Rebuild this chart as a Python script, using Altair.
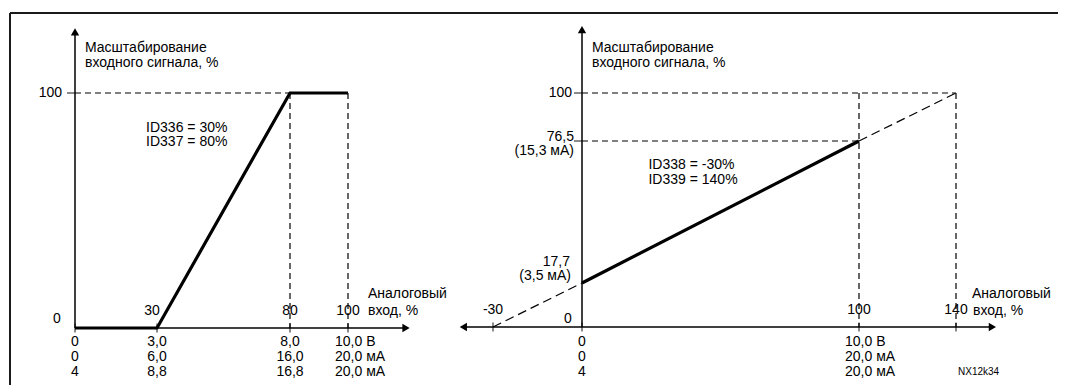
import altair as alt
import pandas as pd

FONT = "Liberation Sans"
FS = 14
INK = "black"

# ---------------- left panel: ID336 = 30 %, ID337 = 80 %
L_curve_x = [0, 30, 80, 100]
L_curve_y = [0, 0, 100, 100]
L_guide_x = [0, 80, 100]
L_guide_x2 = [80, 80, 100]
L_guide_y = [100, 100, 100]
L_guide_y2 = [100, 0, 0]
L_xticks = [0, 30, 80, 100]
L_xlabel_pos = [80, 100]
L_xlabels = ["80", "100"]
L_cols = [0, 30, 80]
L_row1 = ["0", "3,0", "8,0"]
L_row2 = ["0", "6,0", "16,0"]
L_row3 = ["4", "8,8", "16,8"]
L_last = ["10,0 В", "20,0 мА", "20,0 мА"]
L_params = ["ID336 = 30%", "ID337 = 80%"]
L_param_pos = (26, 85)

# ---------------- right panel: ID338 = -30 %, ID339 = 140 %
R_solid_x = [0, 100]
R_solid_y = [17.7, 76.5]
R_dash_x = [-30, 100]
R_dash_x2 = [0, 140]
R_dash_y = [0, 76.5]
R_dash_y2 = [17.7, 100]
R_guide_x = [0, 0, 100, 140]
R_guide_x2 = [140, 100, 100, 140]
R_guide_y = [100, 76.5, 100, 100]
R_guide_y2 = [100, 76.5, 0, 0]
R_xticks = [-30, 0, 100, 140]
R_xlabel_pos = [-30, 100, 140]
R_xlabels = ["-30", "100", "140"]
R_first = ["0", "0", "4"]
R_last = ["10,0 В", "20,0 мА", "20,0 мА"]
R_params = ["ID338 =  -30%", "ID339 = 140%"]
R_param_pos = (24, 66.6)

Y_TITLE = ["Масштабирование", "входного сигнала, %"]
X_TITLE = ["Аналоговый", "вход, %"]

# schematic (piecewise) scales, as in the original drawing
XL = alt.Scale(domain=[0, 30, 80, 100], range=[67, 149, 282, 340], nice=False, zero=False)
YL = alt.Scale(domain=[0, 100], range=[320, 85], nice=False, zero=False)
XR = alt.Scale(domain=[-30, 0, 100, 140], range=[485, 574, 851, 948], nice=False, zero=False)
YR = alt.Scale(domain=[0, 17.7, 76.5, 100], range=[319, 275, 133, 85], nice=False, zero=False)

ROWS = [14, 29, 44]


def xy(xs, ys, xf="x", yf="y"):
    return dict(x=alt.X(f"{xf}:Q", scale=xs, axis=None),
                y=alt.Y(f"{yf}:Q", scale=ys, axis=None))


def seg(df, xs, ys, **mk):
    return alt.Chart(df).mark_rule(color=INK, **mk).encode(
        **xy(xs, ys), x2="x2:Q", y2="y2:Q")


def txt(xs_vals, ys_vals, texts, xs, ys, align="center", dx=0, dy=0, size=FS):
    df = pd.DataFrame({"x": xs_vals, "y": ys_vals, "t": texts})
    return alt.Chart(df).mark_text(align=align, baseline="middle", dx=dx, dy=dy,
                                   fontSize=size, font=FONT, color=INK).encode(
        **xy(xs, ys), text="t:N")


def arrows(px, py, shapes, xs, ys):
    df = pd.DataFrame({"x": px, "y": py, "s": shapes})
    return alt.Chart(df).mark_point(filled=True, color=INK, size=70, opacity=1).encode(
        **xy(xs, ys), shape=alt.Shape("s:N", scale=None, legend=None))


def panel(xs, ys, x_lo, x_hi, y_hi, arrow_px, arrow_py, arrow_sh, xticks, ytick_vals):
    axes = seg(pd.DataFrame({"x": [x_lo, 0], "x2": [x_hi, 0], "y": [0, 0], "y2": [0, y_hi]}),
               xs, ys, strokeWidth=1.5)
    tk = alt.Chart(pd.DataFrame({"x": xticks, "y": [0] * len(xticks)})).mark_tick(
        orient="vertical", size=9, thickness=1.3, color=INK).encode(**xy(xs, ys))
    ytk = alt.Chart(pd.DataFrame({"x": [0] * len(ytick_vals), "y": ytick_vals})).mark_tick(
        orient="horizontal", size=8, thickness=1.3, color=INK, xOffset=-4).encode(**xy(xs, ys))
    return [axes, tk, ytk, arrows(arrow_px, arrow_py, arrow_sh, xs, ys)]


DASH = [6, 4]

# ---------- left panel layers
left_layers = [
    seg(pd.DataFrame({"x": L_guide_x, "x2": L_guide_x2, "y": L_guide_y, "y2": L_guide_y2}),
        XL, YL, strokeDash=DASH, strokeWidth=1.2),
] + panel(XL, YL, 0, 120, 126, [120, 0], [0, 126], ["triangle-right", "triangle-up"],
          L_xticks, [100]) + [
    alt.Chart(pd.DataFrame({"x": L_curve_x, "y": L_curve_y})).mark_line(
        color=INK, strokeWidth=3.2).encode(**xy(XL, YL)),
    txt([0], [100], Y_TITLE[:1], XL, YL, align="left", dx=10, dy=-45),
    txt([0], [100], Y_TITLE[1:], XL, YL, align="left", dx=10, dy=-30),
    txt([0], [100], ["100"], XL, YL, align="right", dx=-13),
    txt([0], [0], ["0"], XL, YL, dx=-18, dy=-9),
    txt([30], [0], ["30"], XL, YL, dx=-5, dy=-17),
    txt(L_xlabel_pos, [0] * 2, L_xlabels, XL, YL, dy=-17),
    txt([100], [0], X_TITLE[:1], XL, YL, align="left", dx=20, dy=-34),
    txt([100], [0], X_TITLE[1:], XL, YL, align="left", dx=20, dy=-17),
    txt(L_cols, [0] * 3, L_row1, XL, YL, dy=ROWS[0]),
    txt(L_cols, [0] * 3, L_row2, XL, YL, dy=ROWS[1]),
    txt(L_cols, [0] * 3, L_row3, XL, YL, dy=ROWS[2]),
    txt([100], [0], L_last[:1], XL, YL, align="left", dx=-13, dy=ROWS[0]),
    txt([100], [0], L_last[1:2], XL, YL, align="left", dx=-13, dy=ROWS[1]),
    txt([100], [0], L_last[2:], XL, YL, align="left", dx=-13, dy=ROWS[2]),
    txt([L_param_pos[0]], [L_param_pos[1]], L_params[:1], XL, YL, align="left"),
    txt([L_param_pos[0]], [L_param_pos[1]], L_params[1:], XL, YL, align="left", dy=14),
    # outer frame of the figure
    alt.Chart(pd.DataFrame({"k": [0]})).mark_rule(color="#1a1a1a", strokeWidth=2).encode(
        x=alt.value(2), y=alt.value(5), x2=alt.value(1058), y2=alt.value(5)),
    alt.Chart(pd.DataFrame({"k": [0]})).mark_rule(color="#1a1a1a", strokeWidth=2).encode(
        x=alt.value(2), y=alt.value(5), x2=alt.value(2), y2=alt.value(377)),
]

# ---------- right panel layers
right_layers = [
    seg(pd.DataFrame({"x": R_guide_x, "x2": R_guide_x2, "y": R_guide_y, "y2": R_guide_y2}),
        XR, YR, strokeDash=DASH, strokeWidth=1.2),
    seg(pd.DataFrame({"x": R_dash_x, "x2": R_dash_x2, "y": R_dash_y, "y2": R_dash_y2}),
        XR, YR, strokeDash=[9, 5], strokeWidth=1.2),
] + panel(XR, YR, -40, 155, 131, [-40, 155, 0], [0, 0, 131],
          ["triangle-left", "triangle-right", "triangle-up"], R_xticks, [100, 76.5]) + [
    alt.Chart(pd.DataFrame({"x": R_solid_x, "y": R_solid_y})).mark_line(
        color=INK, strokeWidth=3.2).encode(**xy(XR, YR)),
    txt([0], [100], Y_TITLE[:1], XR, YR, align="left", dx=10, dy=-45),
    txt([0], [100], Y_TITLE[1:], XR, YR, align="left", dx=10, dy=-30),
    txt([0], [100], ["100"], XR, YR, align="right", dx=-10),
    txt([0], [76.5], ["76,5"], XR, YR, align="right", dx=-8, dy=-4),
    txt([0], [76.5], ["(15,3 мА)"], XR, YR, align="right", dx=-8, dy=10),
    txt([0], [17.7], ["17,7"], XR, YR, align="right", dx=-12, dy=-21),
    txt([0], [17.7], ["(3,5 мА)"], XR, YR, align="right", dx=-11, dy=-7),
    txt([0], [0], ["0"], XR, YR, dx=-14, dy=-8),
    txt(R_xlabel_pos, [0] * 3, R_xlabels, XR, YR, dy=-17),
    txt([140], [0], X_TITLE[:1], XR, YR, align="left", dx=16, dy=-33),
    txt([140], [0], X_TITLE[1:], XR, YR, align="left", dx=17, dy=-16),
    txt([0], [0], R_first[:1], XR, YR, dy=ROWS[0] + 1),
    txt([0], [0], R_first[1:2], XR, YR, dy=ROWS[1] + 1),
    txt([0], [0], R_first[2:], XR, YR, dy=ROWS[2] + 1),
    txt([100], [0], R_last[:1], XR, YR, align="left", dx=-14, dy=ROWS[0] + 1),
    txt([100], [0], R_last[1:2], XR, YR, align="left", dx=-14, dy=ROWS[1] + 1),
    txt([100], [0], R_last[2:], XR, YR, align="left", dx=-14, dy=ROWS[2] + 1),
    txt([R_param_pos[0]], [R_param_pos[1]], R_params[:1], XR, YR, align="left"),
    txt([R_param_pos[0]], [R_param_pos[1]], R_params[1:], XR, YR, align="left", dy=15),
    txt([140], [0], ["NX12k34"], XR, YR, align="left", dx=2, dy=ROWS[2] + 1, size=10),
]

chart = alt.layer(
    alt.layer(*left_layers),
    alt.layer(*right_layers),
).resolve_scale(
    x="independent", y="independent", shape="independent"
).properties(
    width=1050, height=377,
    autosize=alt.AutoSizeParams(type="none"),
    padding=0,
).configure_view(stroke=None)

chart.save("out.html", embed_options={"renderer": "svg", "actions": False})
